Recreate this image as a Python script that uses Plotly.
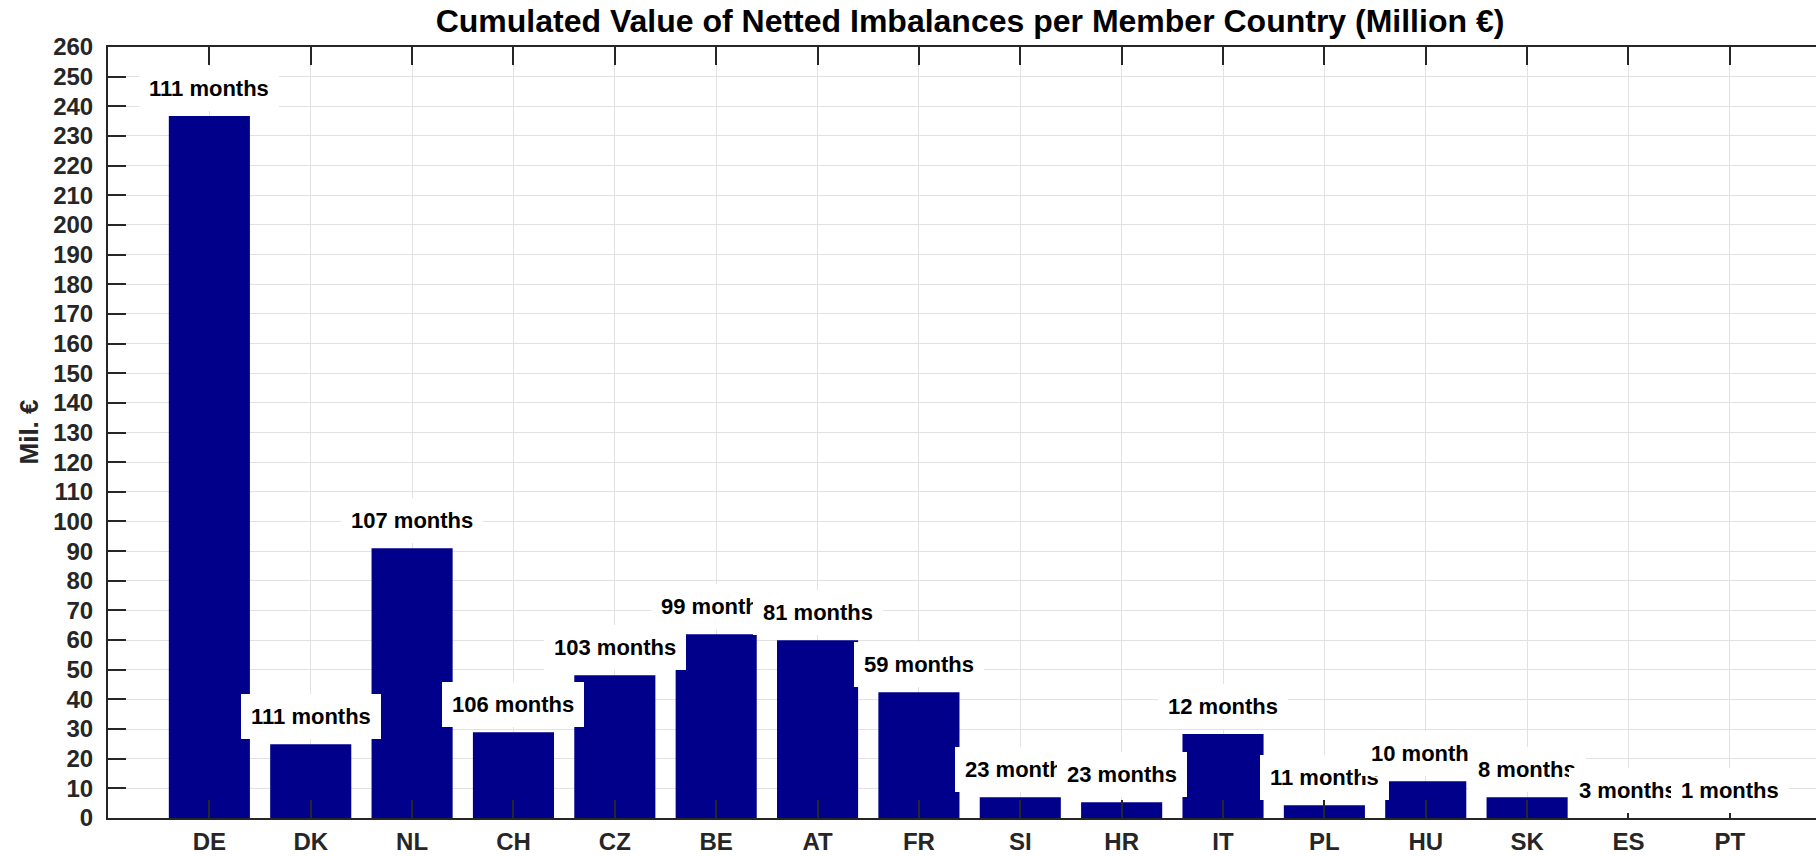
import plotly.graph_objects as go

countries = ["DE", "DK", "NL", "CH", "CZ", "BE", "AT", "FR", "SI", "HR", "IT", "PL", "HU", "SK", "ES", "PT"]
values = [236.7, 24.9, 91.0, 28.9, 48.1, 62.0, 59.9, 42.4, 7.0, 5.3, 28.3, 4.3, 12.4, 7.0, 0.0, 0.0]
months = [111, 111, 107, 106, 103, 99, 81, 59, 23, 23, 12, 11, 10, 8, 3, 1]
y_ticks = list(range(0, 261, 10))

FONT = "Liberation Sans, Arial, Helvetica, sans-serif"
AX = "#262626"
W, H = 1816, 856
ML = 108

fig = go.Figure()
fig.add_trace(go.Bar(
    x=list(range(len(countries))), y=values, width=0.8,
    marker=dict(color="#00008B", line=dict(width=0)),
    hoverinfo="skip",
))

for i, (v, m) in enumerate(zip(values, months)):
    fig.add_annotation(
        x=i, y=v, xref="x", yref="y",
        text=f"<b>{m} months</b>", showarrow=False,
        yshift=28, yanchor="middle", xanchor="center",
        font=dict(family=FONT, size=22, color="black"),
        bgcolor="white", borderpad=10, borderwidth=0,
    )

# y-axis title
fig.add_annotation(
    x=-(ML - 28) / (W - ML), y=0.5, xref="paper", yref="paper",
    text="<b>Mil. €</b>", showarrow=False, textangle=-90,
    xanchor="center", yanchor="middle",
    font=dict(family=FONT, size=26, color=AX),
)

fig.update_layout(
    width=W, height=H,
    margin=dict(l=ML, r=0, t=47, b=38),
    paper_bgcolor="white", plot_bgcolor="white",
    showlegend=False,
    title=dict(
        text="<b>Cumulated Value of Netted Imbalances per Member Country (Million €)</b>",
        x=0.5047, xref="paper", xanchor="center",
        y=1 - 21 / H, yref="container", yanchor="middle",
        font=dict(family=FONT, size=32, color="black"),
    ),
    font=dict(family=FONT, color=AX),
)

fig.update_xaxes(
    range=[-1, 15.85], automargin=False,
    tickmode="array", tickvals=list(range(len(countries))), ticktext=[f"<b>{c}</b>" for c in countries],
    tickfont=dict(family=FONT, size=24, color=AX),
    ticks="inside", ticklen=18, tickwidth=2, tickcolor=AX,
    showline=True, linecolor=AX, linewidth=2, mirror="ticks",
    showgrid=True, gridcolor="#e2e2e2", gridwidth=1,
    zeroline=False, ticklabelstandoff=1,
)
fig.update_yaxes(
    range=[0, 260], automargin=False,
    tickmode="array", tickvals=y_ticks, ticktext=[f"<b>{t}</b>" for t in y_ticks],
    tickfont=dict(family=FONT, size=24, color=AX),
    ticks="inside", ticklen=18, tickwidth=2, tickcolor=AX,
    showline=True, linecolor=AX, linewidth=2, mirror=False,
    showgrid=True, gridcolor="#e2e2e2", gridwidth=1,
    zeroline=False, ticklabelstandoff=8,
)

fig.write_html("out.html", config={"displayModeBar": False},
               post_script="document.body.style.margin='0';document.body.style.overflow='hidden';")
